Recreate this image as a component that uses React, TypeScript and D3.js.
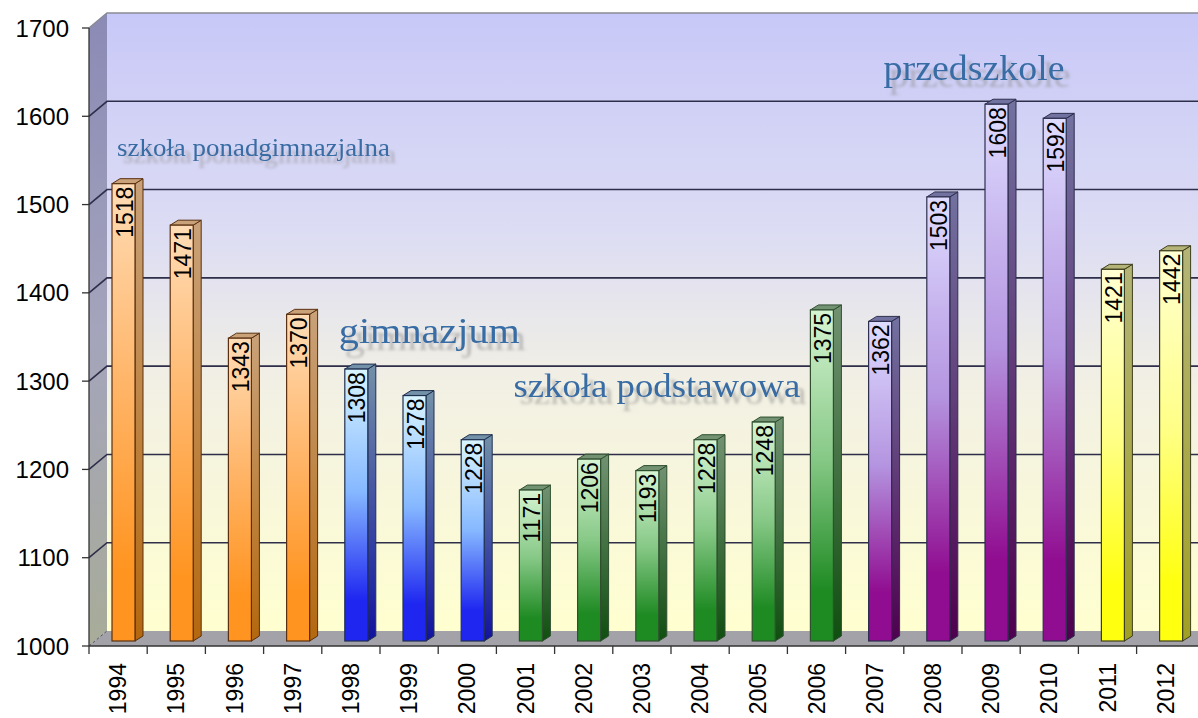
import React, { useEffect, useRef } from "react";
import * as d3 from "d3";

// data
const years = ["1994","1995","1996","1997","1998","1999","2000","2001","2002","2003","2004","2005","2006","2007","2008","2009","2010","2011","2012"];
const pupils = [1518,1471,1343,1370,1308,1278,1228,1171,1206,1193,1228,1248,1375,1362,1503,1608,1592,1421,1442];
const schoolType = ["ponad","ponad","ponad","ponad","gim","gim","gim","pod","pod","pod","pod","pod","pod","przed","przed","przed","przed","nowe","nowe"];
const yTicks = [1000,1100,1200,1300,1400,1500,1600,1700];

// captions anchored to a year and a value
const captionText = ["szkoła ponadgimnazjalna","gimnazjum","szkoła podstawowa","przedszkole"];
const captionYear = ["1994","1998","2001","2007"];
const captionValue = [1555,1343,1282,1641];

const palette: any = {
  ponad: { light: "#ffdcb6", mid: "#ffb466", dark: "#ff9420", sideTop: "#c9a27a", sideBot: "#b4680e", stroke: "#5a3010" },
  gim:   { light: "#d8f4ff", mid: "#86b8ff", dark: "#1e26f0", sideTop: "#7391a8", sideBot: "#12129e", stroke: "#203050" },
  pod:   { light: "#d6f4d2", mid: "#86c886", dark: "#1e8a22", sideTop: "#729272", sideBot: "#104e10", stroke: "#2f4f2f" },
  przed: { light: "#dedcff", mid: "#b494e0", dark: "#900c90", sideTop: "#7272a0", sideBot: "#4e004e", stroke: "#2e2e4e" },
  nowe:  { light: "#ffffd2", mid: "#ffff88", dark: "#ffff10", sideTop: "#b4b478", sideBot: "#a0a024", stroke: "#3e3e1e" },
};

export default function App() {
  const ref = useRef<SVGSVGElement>(null);

  useEffect(() => {
    const W = 1198, H = 718;
    const svg = d3.select(ref.current).attr("width", W).attr("height", H);
    svg.selectAll("*").remove();

    const left = 89, base = 646, top = 28;
    const ddx = 18, ddy = -15; // depth of the walls
    const bdx = 8, bdy = -5;   // depth of a bar

    const x = d3.scaleBand().domain(years).range([left, left + 19 * 58.2]).padding(0);
    const y = d3.scaleLinear().domain([1000, 1700]).range([base, top]);

    const defs = svg.append("defs");
    const wallG = defs.append("linearGradient").attr("id", "wall").attr("x1", 0).attr("y1", 0).attr("x2", 0).attr("y2", 1);
    [[0, "#c8c8f8"], [0.35, "#dcdcf4"], [0.6, "#f2f0e4"], [1, "#ffffd0"]].forEach(s =>
      wallG.append("stop").attr("offset", s[0]).attr("stop-color", s[1] as string));
    const sideG = defs.append("linearGradient").attr("id", "sidewall").attr("x1", 0).attr("y1", 0).attr("x2", 0).attr("y2", 1);
    [[0, "#8a8ab6"], [0.5, "#a4a4bc"], [1, "#a8ac98"]].forEach(s =>
      sideG.append("stop").attr("offset", s[0]).attr("stop-color", s[1] as string));

    Object.keys(palette).forEach(k => {
      const p = palette[k];
      const g = defs.append("linearGradient").attr("id", "f_" + k).attr("x1", 0).attr("y1", 0).attr("x2", 0).attr("y2", 1);
      g.append("stop").attr("offset", 0).attr("stop-color", p.light);
      g.append("stop").attr("offset", 0.45).attr("stop-color", p.mid);
      g.append("stop").attr("offset", 0.85).attr("stop-color", p.dark);
      g.append("stop").attr("offset", 1).attr("stop-color", p.dark);
      const s = defs.append("linearGradient").attr("id", "s_" + k).attr("x1", 0).attr("y1", 0).attr("x2", 0).attr("y2", 1);
      s.append("stop").attr("offset", 0).attr("stop-color", p.sideTop);
      s.append("stop").attr("offset", 1).attr("stop-color", p.sideBot);
    });
    // soft grey shadow behind the captions
    defs.append("filter").attr("id", "shadow")
      .attr("x", "-10%").attr("y", "-30%").attr("width", "130%").attr("height", "180%")
      .append("feDropShadow")
      .attr("dx", 6).attr("dy", 7).attr("stdDeviation", 1.4)
      .attr("flood-color", "#8c8c8c").attr("flood-opacity", 0.55);

    const xr = W + 20;
    // back wall, side wall, floor
    svg.append("polygon")
      .attr("points", `${left + ddx},${y(1700) + ddy} ${xr},${y(1700) + ddy} ${xr},${base + ddy} ${left + ddx},${base + ddy}`)
      .attr("fill", "url(#wall)");
    svg.append("polygon")
      .attr("points", `${left},${y(1700)} ${left + ddx},${y(1700) + ddy} ${left + ddx},${base + ddy} ${left},${base}`)
      .attr("fill", "url(#sidewall)");
    svg.append("polygon")
      .attr("points", `${left},${base} ${left + ddx},${base + ddy} ${xr},${base + ddy} ${xr},${base}`)
      .attr("fill", "#a2a2a8");

    // grid lines
    svg.selectAll(".grid").data(yTicks.slice(1)).join("polyline")
      .attr("class", "grid")
      .attr("points", d => `${left},${y(d)} ${left + ddx},${y(d) + ddy} ${xr},${y(d) + ddy}`)
      .attr("fill", "none")
      .attr("stroke", d => d === 1700 ? "#8a8a96" : "#2e2e4a")
      .attr("stroke-width", 1.6);
    svg.append("line").attr("x1", left).attr("y1", base).attr("x2", left + ddx).attr("y2", base + ddy)
      .attr("stroke", "#555570").attr("stroke-dasharray", "3,2");

    // captions
    const cap = svg.append("g").attr("font-family", "'Liberation Serif', 'DejaVu Serif', serif");
    const capSize = [25, 36, 34, 36];
    const capLen = [273, 181, 287, 181];
    const capDx = [28, 17, 17, 38];
    captionText.forEach((t, i) => {
      const cx = (x(captionYear[i]) as number) + capDx[i];
      const cy = y(captionValue[i]);
      cap.append("text").attr("x", cx).attr("y", cy).text(t)
        .attr("font-size", capSize[i]).attr("textLength", capLen[i]).attr("lengthAdjust", "spacingAndGlyphs")
        .attr("fill", "#386ca4").attr("filter", "url(#shadow)");
    });

    // bars
    const data = years.map((yr, i) => ({ yr, v: pupils[i], k: schoolType[i] }));
    const bw = 23, off = 23;
    const bars = svg.selectAll(".bar").data(data).join("g").attr("class", "bar");
    bars.append("polygon")
      .attr("points", d => {
        const x0 = (x(d.yr) as number) + off + bw, t = y(d.v) - 5, b = base - 5;
        return `${x0},${t} ${x0 + bdx},${t + bdy} ${x0 + bdx},${b + bdy} ${x0},${b}`;
      })
      .attr("fill", d => `url(#s_${d.k})`).attr("stroke", d => palette[d.k].stroke).attr("stroke-width", 1);
    bars.append("polygon")
      .attr("points", d => {
        const x0 = (x(d.yr) as number) + off, t = y(d.v) - 5;
        return `${x0},${t} ${x0 + bdx},${t + bdy} ${x0 + bw + bdx},${t + bdy} ${x0 + bw},${t}`;
      })
      .attr("fill", d => palette[d.k].sideTop).attr("stroke", d => palette[d.k].stroke).attr("stroke-width", 1);
    bars.append("rect")
      .attr("x", d => (x(d.yr) as number) + off)
      .attr("y", d => y(d.v) - 5)
      .attr("width", bw)
      .attr("height", d => base - y(d.v))
      .attr("fill", d => `url(#f_${d.k})`).attr("stroke", d => palette[d.k].stroke).attr("stroke-width", 1.2);

    // value labels
    bars.append("text")
      .attr("transform", d => `translate(${(x(d.yr) as number) + off + bw / 2 + 1},${y(d.v) - 2}) rotate(-90)`)
      .attr("text-anchor", "end")
      .attr("dominant-baseline", "central")
      .attr("font-family", "'Liberation Sans', Arial, sans-serif")
      .attr("font-size", 23)
      .attr("fill", "#000")
      .text(d => d.v);

    // axes
    const ax = svg.append("g").attr("stroke", "#333").attr("stroke-width", 1.3);
    ax.append("line").attr("x1", left).attr("y1", top).attr("x2", left).attr("y2", base);
    ax.append("line").attr("x1", left).attr("y1", base).attr("x2", xr).attr("y2", base);
    ax.selectAll(".yt").data(yTicks).join("line")
      .attr("x1", left - 7).attr("x2", left).attr("y1", d => y(d)).attr("y2", d => y(d));
    ax.selectAll(".xt").data(years).join("line")
      .attr("x1", d => x(d) as number).attr("x2", d => x(d) as number).attr("y1", base).attr("y2", base + 8);

    svg.selectAll(".ylab").data(yTicks).join("text")
      .attr("x", 69).attr("y", d => y(d))
      .attr("text-anchor", "end").attr("dominant-baseline", "central")
      .attr("font-family", "'Liberation Sans', Arial, sans-serif").attr("font-size", 24)
      .text(d => d);
    svg.selectAll(".xlab").data(years).join("text")
      .attr("transform", d => `translate(${(x(d) as number) + x.bandwidth() / 2},663) rotate(-90)`)
      .attr("text-anchor", "end").attr("dominant-baseline", "central")
      .attr("font-family", "'Liberation Sans', Arial, sans-serif").attr("font-size", 23)
      .text(d => d);
  }, []);

  return (
    <svg ref={ref} style={{ position: "absolute", left: 0, top: 0, background: "#fff" }}></svg>
  );
}
